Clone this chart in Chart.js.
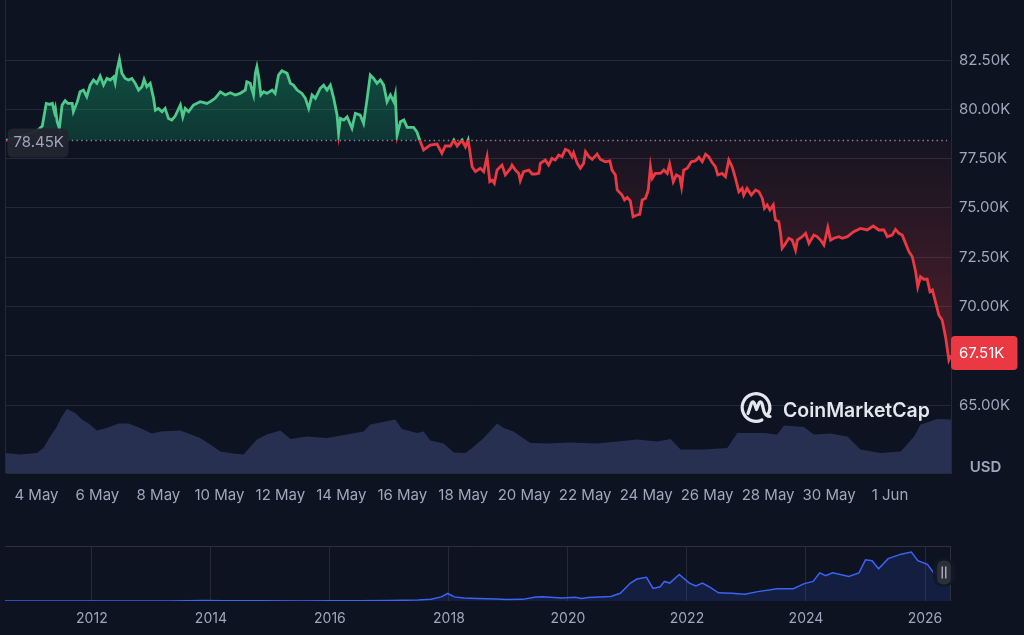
<!DOCTYPE html>
<html><head><meta charset="utf-8">
<script src="https://cdn.jsdelivr.net/npm/chart.js@4.4.1/dist/chart.umd.min.js"></script>
<style>
html,body{margin:0;padding:0;background:#0d1320;width:1024px;height:635px;overflow:hidden}
#c1{position:absolute;left:0;top:0}
#c2{position:absolute;left:0;top:530px}
</style></head><body>
<canvas id="c1" width="1024" height="530"></canvas>
<canvas id="c2" width="1024" height="105"></canvas>
<script>
// ---------- data ----------
const baselinePrice = 78450;
const priceDays = [0,0.25,0.5,0.8,1.05,1.19,1.32,1.43,1.52,1.59,1.62,1.68,1.75,1.84,1.94,2.03,2.17,2.21,2.34,2.43,2.54,2.65,2.76,2.87,2.98,3.09,3.2,3.31,3.42,3.53,3.58,3.64,3.72,3.8,3.91,4.02,4.13,4.24,4.35,4.46,4.53,4.62,4.73,4.84,4.9,5.0,5.12,5.22,5.33,5.44,5.55,5.72,5.8,5.88,5.99,6.15,6.37,6.59,6.7,6.86,7.03,7.19,7.36,7.52,7.68,7.85,7.9,8.01,8.12,8.18,8.23,8.29,8.36,8.45,8.56,8.73,8.83,8.94,9.05,9.22,9.33,9.43,9.55,9.71,9.82,9.93,10.04,10.15,10.31,10.42,10.53,10.64,10.75,10.86,10.91,10.97,11.08,11.19,11.35,11.46,11.62,11.73,11.84,11.95,12.06,12.17,12.28,12.39,12.5,12.61,12.72,12.77,12.83,12.94,13.05,13.16,13.37,13.48,13.57,13.7,13.81,13.92,14.14,14.3,14.41,14.58,14.69,14.8,14.96,15.07,15.16,15.29,15.4,15.56,15.67,15.78,15.87,15.95,16.02,16.11,16.27,16.38,16.55,16.6,16.71,16.82,16.87,16.98,17.15,17.26,17.37,17.48,17.53,17.69,17.8,17.91,18.02,18.13,18.24,18.35,18.46,18.57,18.62,18.74,18.84,18.95,19.01,19.12,19.23,19.39,19.5,19.66,19.81,19.88,19.99,20.05,20.21,20.29,20.38,20.48,20.57,20.7,20.79,20.87,20.98,21.07,21.14,21.2,21.3,21.47,21.58,21.69,21.77,21.89,21.99,22.1,22.16,22.23,22.35,22.48,22.62,22.73,22.84,22.95,23.05,23.17,23.27,23.35,23.49,23.6,23.71,23.82,23.93,24.04,24.15,24.2,24.31,24.45,24.59,24.7,24.81,24.88,24.97,25.06,25.17,25.24,25.35,25.41,25.46,25.54,25.68,25.79,25.9,25.96,26.12,26.23,26.34,26.5,26.61,26.72,26.83,26.96,27.05,27.16,27.32,27.43,27.6,27.81,28.03,28.25,28.45,28.63,28.8,28.91,29.07,29.18,29.29,29.4,29.51,29.62,29.73,29.84,29.91,30.0,30.11,30.22,30.31,30.39,30.49,30.6,30.71,30.82,30.93,31.0];
const priceUsd = [78420,78560,78650,78800,78950,79150,80300,80250,80300,79860,80050,79360,79050,80220,80440,80300,80300,79880,80390,80890,80980,80640,81230,81490,81320,81690,81230,81570,81490,81650,81350,81990,82540,81830,81570,81490,81570,81320,80980,81150,81520,81150,81320,80560,79960,80050,79880,80050,79540,79460,79660,80220,79620,80050,79880,80220,80390,80300,80390,80560,80890,80730,80840,80730,80810,80980,81400,81320,80730,81830,82160,81650,80730,80890,80810,80980,80810,81740,81960,81830,81320,81230,80980,80810,80560,80050,80730,80560,81070,81230,80980,81230,80560,79710,78780,79540,79460,79620,79040,79800,79710,79290,80470,81740,81570,81320,81490,81230,80390,80730,80390,80730,78700,79370,79460,79090,79090,78860,78450,77940,78070,78190,78240,77770,78140,78140,78440,78140,78440,78100,78440,77090,76840,77010,76840,77600,76330,76410,76250,76920,77170,76670,77000,77170,76920,76750,76380,76840,76920,76720,76720,76750,77260,77430,77170,77510,77430,77680,77600,77970,77900,77600,77800,77260,77010,77260,77850,77600,77460,77730,77460,77340,77390,76920,76670,75910,75650,75400,75530,75360,74550,74640,74670,75400,75490,75910,77090,76500,76750,76750,76920,76750,77230,76330,76670,76580,76070,76920,77010,77340,77390,77570,77340,77720,77600,77290,77090,76670,76750,76580,77430,77090,76500,75820,75990,75650,75990,75650,75910,75820,75480,74980,75150,74890,75150,74390,74300,73710,72950,73120,73460,73370,72860,73370,73540,73710,73200,73620,73540,73370,73120,74010,73370,73460,73540,73460,73540,73790,73960,73880,74080,73880,73880,73540,73620,73910,73710,73620,73200,72780,72520,71760,71000,71510,71380,71380,70750,70830,70240,69570,69310,68470,67280,67510];
const volumeDays = [0,0.46,1.01,1.23,1.45,1.67,1.83,2.0,2.27,2.49,2.71,2.98,3.31,3.69,4.02,4.4,4.79,5.06,5.72,6.37,6.7,7.03,7.46,7.79,8.23,8.56,9.0,9.33,9.87,10.53,11.19,11.73,11.95,12.28,12.77,12.99,13.48,13.7,13.92,14.36,14.69,15.07,15.29,15.67,16.11,16.33,16.65,17.2,17.75,18.51,19.39,20.05,20.7,21.36,21.8,22.13,22.89,23.66,23.99,24.86,25.3,25.52,26.18,26.5,27.05,27.6,28.03,28.69,29.35,29.79,30.0,30.55,31.0];
const volumeBillions = [10.0,9.2,10.0,12.5,18.3,23.3,28.3,32.0,30.0,26.7,24.7,21.3,22.5,24.7,24.7,22.5,19.7,20.8,21.3,17.5,14.2,10.8,9.7,9.2,16.7,19.2,21.3,17.0,18.3,17.5,19.2,20.8,24.2,25.3,26.7,22.0,20.0,20.8,16.3,14.7,10.3,10.0,12.5,17.5,24.7,22.5,20.8,15.0,14.7,15.3,14.7,15.8,16.7,15.8,17.0,11.7,11.7,12.5,20.0,20.0,19.2,23.7,23.0,19.2,19.7,18.3,11.7,10.0,10.8,18.3,24.2,27.0,26.7];
const dayTickValues = [1,3,5,7,9,11,13,15,17,19,21,23,25,27,29];
const dayTickLabels = ['4 May','6 May','8 May','10 May','12 May','14 May','16 May','18 May','20 May','22 May','24 May','26 May','28 May','30 May','1 Jun'];
const priceTickValues = [65000,67500,70000,72500,75000,77500,80000,82500];

const historyYears = [2010.54,2011.0,2011.45,2011.9,2012.5,2013.0,2013.3,2013.9,2014.2,2014.9,2015.5,2016.0,2016.5,2017.0,2017.48,2017.7,2017.87,2017.98,2018.09,2018.25,2018.47,2018.8,2018.96,2019.24,2019.46,2019.57,2019.9,2020.12,2020.23,2020.34,2020.72,2020.88,2021.05,2021.16,2021.32,2021.43,2021.55,2021.62,2021.71,2021.87,2022.04,2022.15,2022.26,2022.37,2022.53,2022.75,2022.97,2023.19,2023.52,2023.79,2023.96,2024.12,2024.23,2024.33,2024.45,2024.72,2024.89,2025.0,2025.11,2025.22,2025.38,2025.6,2025.77,2025.88,2026.04,2026.15,2026.25,2026.36,2026.42];
const historyPriceK = [0.0001,0.0003,0.03,0.003,0.007,0.013,0.2,1.1,0.6,0.32,0.25,0.43,0.65,1.0,2.5,4.3,10.1,18.5,10.1,7.6,6.4,5.0,3.5,4.0,10.0,10.5,7.2,9.0,6.0,8.5,11.0,19.0,44,54,58,31,35,48,44,65,44,37,44,35,20,19,16.5,23,30,30,42,48,69,62,69,60,69,101,99,79,104,115,120,99,90,68,70,80,67.5];
const yearTickValues = [2012,2014,2016,2018,2020,2022,2024,2026];

// ---------- style ----------
Chart.defaults.font.family = "Inter, 'Noto Sans', 'DejaVu Sans', sans-serif";
const TXT = '#a1a7bb';
const GRID = '#242936';
const GREEN = '#4fc98b';
const RED = '#ea3943';

function fmtK(v){ return (v/1000).toFixed(2) + 'K'; }

function lineGradient(ctx){
  const c = ctx.chart, a = c.chartArea;
  if (!a) return GREEN;
  const y = c.scales.y.getPixelForValue(baselinePrice);
  const r = Math.min(Math.max((y - a.top)/(a.bottom - a.top), 0), 1);
  const g = c.ctx.createLinearGradient(0, a.top, 0, a.bottom);
  g.addColorStop(0, GREEN); g.addColorStop(r, GREEN);
  g.addColorStop(r, RED); g.addColorStop(1, RED);
  return g;
}
function fillGradient(ctx){
  const c = ctx.chart, a = c.chartArea;
  if (!a) return 'rgba(22,199,132,0.2)';
  const s = c.scales.y;
  const yTop = s.getPixelForValue(Math.max(...priceUsd));
  const yLow = s.getPixelForValue(Math.min(...priceUsd));
  const yB = s.getPixelForValue(baselinePrice);
  const r = (yB - yTop)/(yLow - yTop);
  const g = c.ctx.createLinearGradient(0, yTop, 0, yLow);
  g.addColorStop(0, 'rgba(22,199,132,0.34)');
  g.addColorStop(r, 'rgba(22,199,132,0.20)');
  g.addColorStop(r, 'rgba(234,57,67,0.04)');
  g.addColorStop(1, 'rgba(234,57,67,0.30)');
  return g;
}

function roundRect(ctx, x, y, w, h, r){
  ctx.beginPath();
  ctx.moveTo(x+r, y); ctx.lineTo(x+w-r, y); ctx.quadraticCurveTo(x+w, y, x+w, y+r);
  ctx.lineTo(x+w, y+h-r); ctx.quadraticCurveTo(x+w, y+h, x+w-r, y+h);
  ctx.lineTo(x+r, y+h); ctx.quadraticCurveTo(x, y+h, x, y+h-r);
  ctx.lineTo(x, y+r); ctx.quadraticCurveTo(x, y, x+r, y);
  ctx.closePath();
}

const mainOverlay = {
  id: 'mainOverlay',
  beforeDatasetsDraw(chart){
    const {ctx, chartArea: a, scales} = chart;
    ctx.save();
    ctx.strokeStyle = GRID; ctx.lineWidth = 1;
    ctx.beginPath(); ctx.moveTo(a.left - 0.5, 0); ctx.lineTo(a.left - 0.5, a.bottom); ctx.stroke();
    ctx.beginPath(); ctx.moveTo(a.right + 0.5, 0); ctx.lineTo(a.right + 0.5, a.top); ctx.stroke();
    const yb = Math.round(scales.y.getPixelForValue(baselinePrice)) + 0.5;
    ctx.strokeStyle = 'rgba(150,158,178,0.85)'; ctx.lineWidth = 1.4;
    ctx.setLineDash([1.4, 3.3]);
    ctx.beginPath(); ctx.moveTo(a.left, yb); ctx.lineTo(a.right - 4, yb); ctx.stroke();
    ctx.restore();
  },
  afterDatasetsDraw(chart){
    const {ctx, chartArea: a} = chart;
    ctx.save();
    const cx = a.right - 195, cy = a.bottom - 65.5;
    ctx.strokeStyle = '#e4e7ee'; ctx.lineWidth = 3.2; ctx.lineCap = 'round'; ctx.lineJoin = 'round';
    ctx.beginPath(); ctx.arc(cx, cy, 13.8, Math.PI*0.36, Math.PI*2.18); ctx.stroke();
    ctx.beginPath();
    ctx.moveTo(cx - 8, cy + 6);
    ctx.lineTo(cx - 4.5, cy - 4.5);
    ctx.quadraticCurveTo(cx - 3, cy - 7, cx - 1.5, cy - 4);
    ctx.lineTo(cx + 0.5, cy + 2);
    ctx.lineTo(cx + 3, cy - 4.5);
    ctx.quadraticCurveTo(cx + 4.5, cy - 7, cx + 6, cy - 4);
    ctx.lineTo(cx + 8, cy + 4);
    ctx.quadraticCurveTo(cx + 10, cy + 9, cx + 14, cy + 9);
    ctx.stroke();
    const txt = 'CoinMarketCap';
    let size = 21;
    ctx.font = '600 ' + size + 'px Inter, sans-serif';
    const w = ctx.measureText(txt).width;
    size = size * 147 / w;
    ctx.font = '600 ' + size.toFixed(2) + 'px Inter, sans-serif';
    ctx.fillStyle = '#e4e7ee'; ctx.textBaseline = 'alphabetic'; ctx.textAlign = 'left';
    ctx.fillText(txt, a.right - 168, a.bottom - 56);
    ctx.restore();
  },
  afterDraw(chart){
    const {ctx, chartArea: a, scales} = chart;
    ctx.save();
    const yb = scales.y.getPixelForValue(baselinePrice);
    ctx.fillStyle = 'rgba(33,37,48,0.96)';
    roundRect(ctx, a.left + 1.5, yb - 11.5, 61, 29, 6); ctx.fill();
    ctx.fillStyle = TXT; ctx.font = '15px Inter, sans-serif';
    ctx.textBaseline = 'middle'; ctx.textAlign = 'left';
    ctx.fillText(fmtK(baselinePrice), a.left + 7.5, yb + 3);
    const last = priceUsd[priceUsd.length - 1];
    const yl = scales.y.getPixelForValue(last);
    ctx.fillStyle = RED;
    roundRect(ctx, a.right, yl - 19.5, 66.5, 34, 4); ctx.fill();
    ctx.fillStyle = '#ffffff'; ctx.font = '15px Inter, sans-serif';
    ctx.fillText(fmtK(last), a.right + 8, yl - 2);
    ctx.fillStyle = TXT; ctx.font = '600 15px Inter, sans-serif'; ctx.textAlign = 'center';
    ctx.fillText('USD', a.right + 34.5, a.bottom - 6);
    ctx.restore();
  }
};

new Chart(document.getElementById('c1'), {
  type: 'line',
  data: { datasets: [
    { label: 'Price', data: priceDays.map((d,i)=>({x:d, y:priceUsd[i]})), yAxisID: 'y',
      borderColor: lineGradient, borderWidth: 2.8, pointRadius: 0, tension: 0,
      fill: { target: { value: baselinePrice } }, backgroundColor: fillGradient, order: 1 },
    { label: 'Volume', data: volumeDays.map((d,i)=>({x:d, y:volumeBillions[i]})), yAxisID: 'yVol',
      borderWidth: 0, borderColor: 'rgba(0,0,0,0)', pointRadius: 0, tension: 0, fill: 'origin',
      backgroundColor: '#283052', order: 2 }
  ]},
  options: {
    responsive: false, animation: false, events: [],
    layout: { padding: { left: 6, top: 11, right: 0, bottom: 0 } },
    plugins: { legend: { display: false }, tooltip: { enabled: false } },
    scales: {
      x: { type: 'linear', min: 0, max: 31,
        afterBuildTicks: s => { s.ticks = dayTickValues.map(v => ({value: v})); },
        afterFit: s => { s.height = 57; s.paddingLeft = 0; s.paddingRight = 0; },
        grid: { display: false }, border: { display: true, color: GRID },
        ticks: { color: TXT, font: { size: 15 }, padding: 5, maxRotation: 0, autoSkip: false,
          callback: (v, i) => dayTickLabels[i] } },
      y: { position: 'right', min: 61550, max: 84990,
        afterBuildTicks: s => { s.ticks = priceTickValues.map(v => ({value: v})); },
        afterFit: s => { s.width = 73; s.paddingTop = 0; s.paddingBottom = 0; },
        grid: { color: GRID, drawTicks: false }, border: { display: true, color: GRID },
        ticks: { color: TXT, font: { size: 15 }, padding: 8, callback: v => fmtK(v) } },
      yVol: { display: false, min: 0, max: 231 }
    }
  },
  plugins: [mainOverlay]
});

const navOverlay = {
  id: 'navOverlay',
  afterDraw(chart){
    const {ctx, chartArea: a} = chart;
    ctx.save();
    ctx.strokeStyle = '#2c303c'; ctx.lineWidth = 1;
    ctx.beginPath(); ctx.moveTo(a.left, a.top + 0.5); ctx.lineTo(a.right, a.top + 0.5); ctx.stroke();
    ctx.beginPath(); ctx.moveTo(a.right + 0.5, a.top); ctx.lineTo(a.right + 0.5, a.bottom); ctx.stroke();
    const hx = a.right - 6, hy = (a.top + a.bottom)/2 - 1;
    ctx.fillStyle = 'rgba(20,24,33,0.9)';
    roundRect(ctx, hx - 11, hy - 14, 22, 28, 11); ctx.fill();
    ctx.fillStyle = '#2b2f3a';
    roundRect(ctx, hx - 7, hy - 12, 14, 24, 7); ctx.fill();
    ctx.strokeStyle = '#c3c7d1'; ctx.lineWidth = 1.2;
    ctx.beginPath();
    ctx.moveTo(hx - 1.8, hy - 6); ctx.lineTo(hx - 1.8, hy + 6);
    ctx.moveTo(hx + 1.8, hy - 6); ctx.lineTo(hx + 1.8, hy + 6);
    ctx.stroke();
    ctx.restore();
  }
};

new Chart(document.getElementById('c2'), {
  type: 'line',
  data: { datasets: [
    { label: 'History', data: historyYears.map((t,i)=>({x:t, y:historyPriceK[i]})),
      borderColor: '#3b63f5', borderWidth: 1.5, pointRadius: 0, tension: 0,
      fill: 'origin', backgroundColor: 'rgba(56,97,251,0.15)' }
  ]},
  options: {
    responsive: false, animation: false, events: [],
    layout: { padding: { left: 5, top: 16, right: 74, bottom: 0 } },
    plugins: { legend: { display: false }, tooltip: { enabled: false } },
    scales: {
      x: { type: 'linear', min: 2010.54, max: 2026.42,
        afterBuildTicks: s => { s.ticks = yearTickValues.map(v => ({value: v})); },
        afterFit: s => { s.height = 34; s.paddingLeft = 0; s.paddingRight = 0; },
        grid: { color: '#262a36', drawTicks: false }, border: { display: false },
        ticks: { color: TXT, font: { size: 14 }, padding: 9, maxRotation: 0, autoSkip: false,
          callback: v => String(v) } },
      y: { display: false, min: 0, max: 135 }
    }
  },
  plugins: [navOverlay]
});
</script>
</body></html>
